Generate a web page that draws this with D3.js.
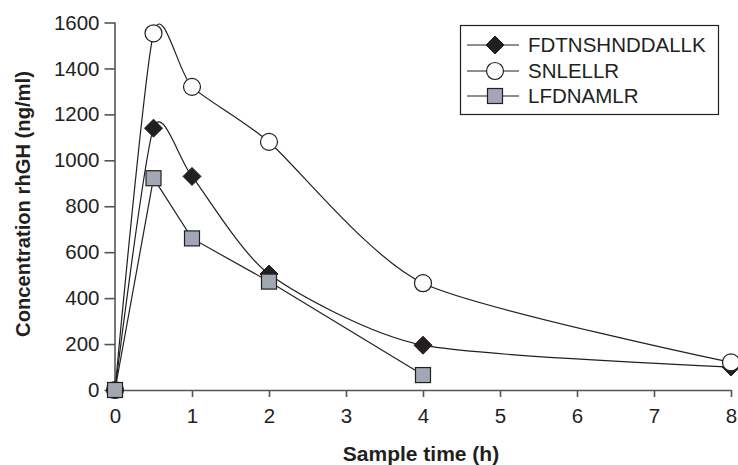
<!DOCTYPE html>
<html><head><meta charset="utf-8">
<script src="https://cdn.jsdelivr.net/npm/d3@7"></script>
<style>body{margin:0;background:#fff}svg{display:block}text{font-family:"Liberation Sans",Arial,sans-serif;fill:#231f20}</style>
</head><body><svg id="c" width="738" height="465"></svg>
<script>
const seriesNames = ["FDTNSHNDDALLK", "SNLELLR", "LFDNAMLR"];
const timesFD = [0, 0.5, 1, 2, 4, 8];
const valuesFD = [0, 1140, 930, 505, 195, 100];
const timesSN = [0, 0.5, 1, 2, 4, 8];
const valuesSN = [0, 1553, 1320, 1080, 465, 120];
const timesLF = [0, 0.5, 1, 2, 4];
const valuesLF = [0, 922, 660, 472, 65];
const xTicks = [0,1,2,3,4,5,6,7,8];
const yTicks = [0,200,400,600,800,1000,1200,1400,1600];

const svg = d3.select("#c");
const x = d3.scaleLinear().domain([0,8]).range([115,731]);
const y = d3.scaleLinear().domain([0,1600]).range([390,22.5]);
const ink = "#231f20";
const FONT = "Liberation Sans, Arial, sans-serif";

const gx = svg.append("g").attr("transform","translate(0,390)")
  .call(d3.axisBottom(x).tickValues(xTicks).tickFormat(d3.format("d")).tickSize(7).tickPadding(14).tickSizeOuter(0));
const gy = svg.append("g").attr("transform","translate(115,0)")
  .call(d3.axisLeft(y).tickValues(yTicks).tickFormat(d3.format("d")).tickSize(10.5).tickPadding(5).tickSizeOuter(0));
[gx,gy].forEach(g=>{
  g.attr("font-size",20.5).attr("font-family",FONT);
  g.select(".domain").attr("stroke","#555").attr("stroke-width",1.6);
  g.selectAll(".tick line").attr("stroke","#555").attr("stroke-width",1.6);
  g.selectAll(".tick text").attr("fill",ink);
});
gx.selectAll(".tick text").attr("dy","0.6em");
gy.select(".domain").attr("d","M0,22.5V398");

svg.append("text").attr("x",421).attr("y",461).attr("text-anchor","middle")
  .attr("font-size",21).attr("font-weight","bold").text("Sample time (h)");
svg.append("text").attr("transform","translate(30,204) rotate(-90)").attr("text-anchor","middle")
  .attr("font-size",20.2).attr("font-weight","bold").text("Concentration rhGH (ng/ml)");

const series = [
  {name:seriesNames[0], t:timesFD, v:valuesFD, shape:"diamond", curve:d3.curveCardinal.tension(0.3)},
  {name:seriesNames[1], t:timesSN, v:valuesSN, shape:"circle", curve:d3.curveCardinal.tension(0.3)},
  {name:seriesNames[2], t:timesLF, v:valuesLF, shape:"square", curve:d3.curveLinear}
];

function marker(g, shape, cx, cy){
  if(shape==="diamond"){
    g.append("path").attr("d",`M${cx},${cy-9}L${cx+9},${cy}L${cx},${cy+9}L${cx-9},${cy}Z`)
      .attr("fill","#231f20").attr("stroke","#231f20").attr("stroke-width",1);
  } else if(shape==="circle"){
    g.append("circle").attr("cx",cx).attr("cy",cy).attr("r",8.5)
      .attr("fill","#fcfefd").attr("stroke","#231f20").attr("stroke-width",1.2);
  } else {
    g.append("rect").attr("x",cx-7.5).attr("y",cy-7.5).attr("width",15).attr("height",15)
      .attr("fill","#a1a8b3").attr("stroke","#231f20").attr("stroke-width",1.2);
  }
}

series.forEach(s=>{
  const pts = s.t.map((t,i)=>[x(t),y(s.v[i])]);
  svg.append("path").attr("d",d3.line().curve(s.curve)(pts))
    .attr("fill","none").attr("stroke",ink).attr("stroke-width",1.2);
});
series.forEach(s=>{
  const g = svg.append("g");
  s.t.forEach((t,i)=>marker(g,s.shape,x(t),y(s.v[i])));
});

const lg = svg.append("g");
lg.append("rect").attr("x",460.5).attr("y",25.5).attr("width",258).attr("height",89)
  .attr("fill","#fff").attr("stroke","#231f20").attr("stroke-width",1.2);
const rowsY = [45,71,96];
series.forEach((s,i)=>{
  const yy = rowsY[i];
  lg.append("line").attr("x1",467).attr("x2",519).attr("y1",yy).attr("y2",yy).attr("stroke",ink).attr("stroke-width",1.2);
  marker(lg,s.shape,495,yy);
  lg.append("text").attr("x",528).attr("y",yy+7).attr("font-size",20.5).text(s.name);
});
</script></body></html>
